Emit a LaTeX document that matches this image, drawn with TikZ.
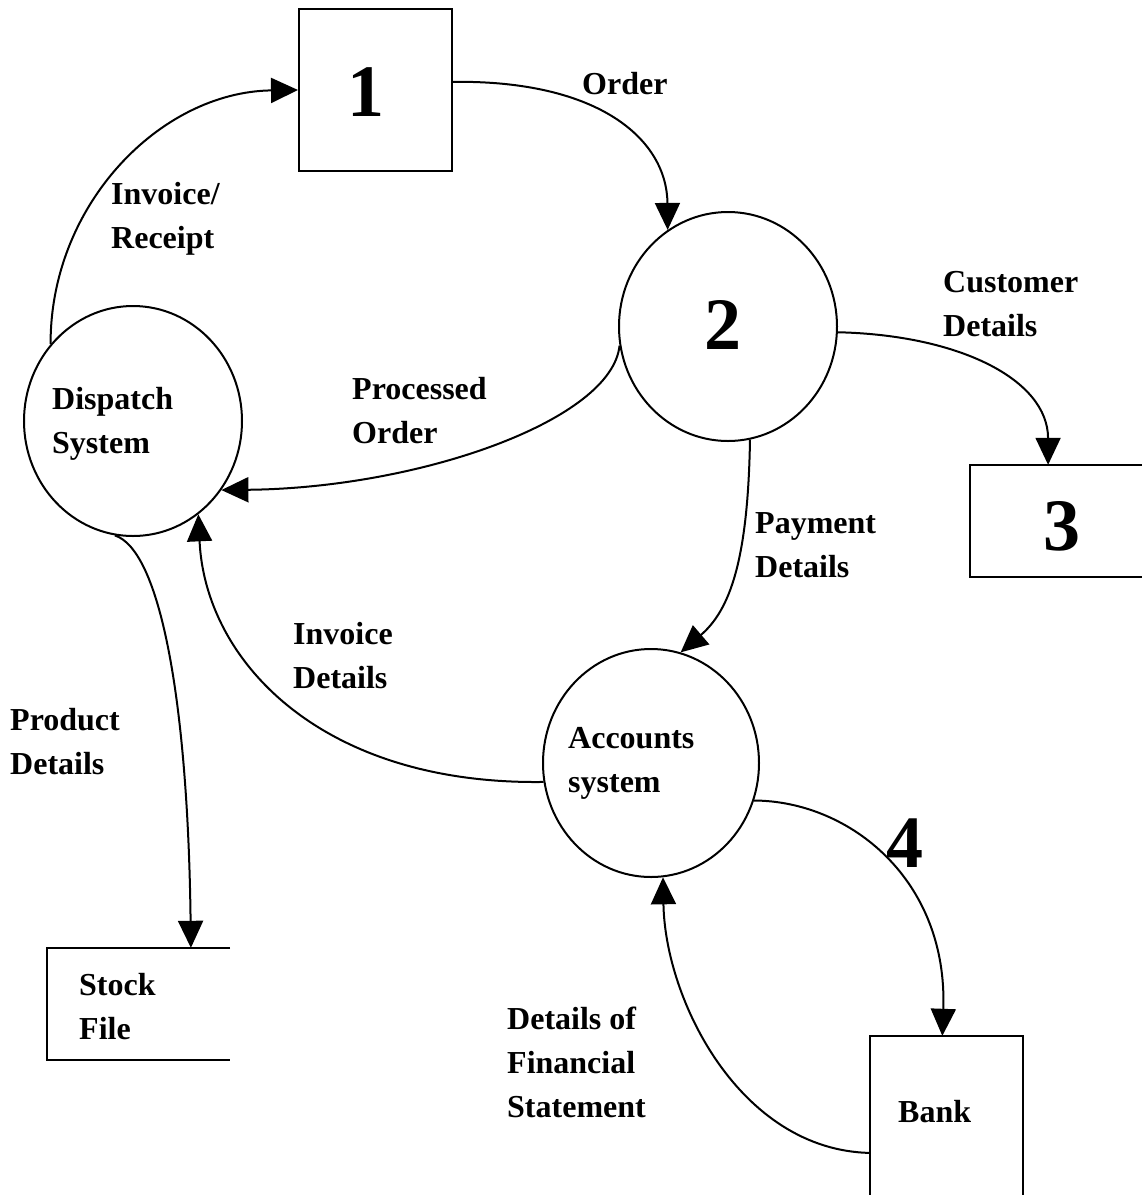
\documentclass[tikz,border=0pt]{standalone}
\usepackage{fontspec}
\setmainfont{Liberation Serif}
\usetikzlibrary{arrows.meta,shapes.geometric}
\begin{document}
\begin{tikzpicture}[x=1pt,y=-1pt,
  lbl/.style={font=\fontsize{32}{44}\selectfont\bfseries, align=left, inner sep=0pt, anchor=north west},
  digit/.style={font=\fontsize{74}{80}\selectfont\bfseries, inner sep=0pt},
  proc/.style={ellipse, draw, line width=2pt, inner sep=0pt},
  flow/.style={line width=2pt, -{Triangle[length=27pt,width=25pt]}},
  edgeline/.style={line width=2pt},
  hidden/.style={inner sep=0pt}
]
\useasboundingbox (0,0) rectangle (1142,1195);

% process circles
\node[proc, minimum width=218pt, minimum height=229pt] (c2) at (728,326.5) {};
\node[proc, minimum width=218pt, minimum height=230pt] (ds) at (133,421) {};
\node[proc, minimum width=216pt, minimum height=228pt] (acc) at (651,763) {};

% boxes
\node[draw, line width=2pt, minimum width=153pt, minimum height=162pt, inner sep=0pt] (b1) at (375.5,90) {};
\node[hidden, minimum width=172pt, minimum height=112pt] (b3) at (1056,521) {};
\node[hidden, minimum width=183pt, minimum height=112pt] (sf) at (138.5,1004) {};
\node[hidden, minimum width=153pt, minimum height=159pt] (bank) at (946.5,1115.5) {};

\draw[edgeline] (b3.north east) -- (b3.north west) -- (b3.south west) -- (b3.south east);
\draw[edgeline] (sf.north east) -- (sf.north west) -- (sf.south west) -- (sf.south east);
\draw[edgeline] (bank.south west) -- (bank.north west) -- (bank.north east) -- (bank.south east);

% digits
\node[digit] (n1) at (366,92) {1};
\node[digit] (n2) at (723,325) {2};
\node[digit] (n3) at (1062,526) {3};
\node[digit] (n4) at (905,843) {4};

% labels
\node[lbl] (lOrder) at (582,72) {Order};
\node[lbl] (lInv) at (111,182) {Invoice/\\Receipt};
\node[lbl] (lCust) at (943,271) {Customer\\Details};
\node[lbl] (lProc) at (352,377) {Processed\\Order};
\node[lbl] (lDs) at (52,387) {Dispatch\\System};
\node[lbl] (lPay) at (755,512) {Payment\\Details};
\node[lbl] (lInvD) at (293,622) {Invoice\\Details};
\node[lbl] (lProd) at (10,708) {Product\\Details};
\node[lbl] (lAcc) at (568,727) {Accounts\\system};
\node[lbl] (lSf) at (79,973) {Stock\\File};
\node[lbl] (lFin) at (507,1007) {Details of\\Financial\\Statement};
\node[lbl] (lBank) at (898,1100) {Bank};

% flows
\draw[flow] (ds.137) .. controls (50,205) and (160,92) .. (b1.west);
\draw[flow] (b1.6) .. controls (600,80) and (667,140) .. (c2.122);
\draw[flow] (c2.-3) .. controls (960,335) and (1048,380) .. (b3.98);
\draw[flow] (c2.190) .. controls (612,420) and (420,488) .. (ds.-38);
\draw[flow] (c2.-79) .. controls (748,560) and (730,610) .. (acc.75);
\draw[flow] (acc.190) .. controls (320,785) and (205,660) .. (ds.-55);
\draw[flow] (ds.-99) .. controls (160,550) and (188,700) .. (sf.47);
\draw[flow] (acc.-20) .. controls (850,801) and (948,880) .. (bank.93);
\draw[flow] (bank.206) .. controls (740,1150) and (665,1000) .. (acc.-84);
\end{tikzpicture}
\end{document}
